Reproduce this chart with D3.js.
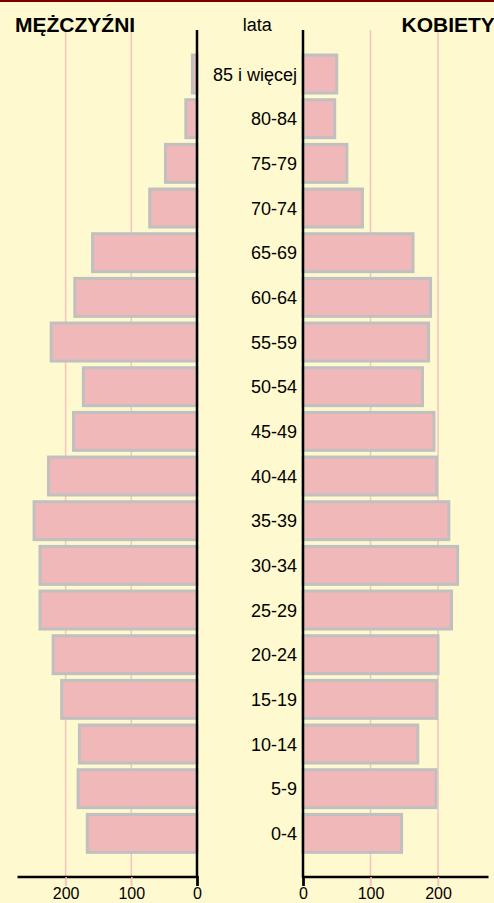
<!DOCTYPE html>
<html>
<head>
<meta charset="utf-8">
<script src="https://cdn.jsdelivr.net/npm/d3@7"></script>
<style>
body { margin: 0; background: #fff9cf; }
svg { display: block; }
text { font-family: "Liberation Sans", Arial, sans-serif; fill: #000; }
</style>
</head>
<body>
<svg width="494" height="903"></svg>
<script>
var svg = d3.select('svg');
var width = +svg.attr('width');
var height = +svg.attr('height');

// age groups, top to bottom
var ageGroups = ['85 i więcej', '80-84', '75-79', '70-74', '65-69', '60-64', '55-59', '50-54', '45-49',
	'40-44', '35-39', '30-34', '25-29', '20-24', '15-19', '10-14', '5-9', '0-4'];
var men = [7, 17, 48, 72, 159, 186, 222, 173, 188, 226, 248, 239, 239, 219, 206, 179, 181, 167];
var women = [50, 47, 65, 88, 163, 189, 186, 177, 194, 198, 216, 229, 220, 200, 198, 170, 197, 146];
var tickValues = [0, 100, 200];

svg.append('rect').attr('width', width).attr('height', height).attr('fill', '#fff9cf');
svg.append('rect').attr('width', width).attr('height', 2).attr('fill', '#7a0000');

var xLeft = d3.scaleLinear().domain([0, 274]).range([197, 17]);
var xRight = d3.scaleLinear().domain([0, 274]).range([303, 488]);

var yScale = d3.scaleBand()
	.domain(ageGroups)
	.range([51.7, 855.7])
	.paddingInner(0.15)
	.paddingOuter(0.075);

var axisTop = 30, axisBottom = 877;

// gridlines
tickValues.slice(1).forEach(function(t) {
	svg.append('line').attr('class', 'grid')
		.attr('x1', xLeft(t)).attr('x2', xLeft(t))
		.attr('y1', axisTop).attr('y2', axisBottom + 9);
	svg.append('line').attr('class', 'grid')
		.attr('x1', xRight(t)).attr('x2', xRight(t))
		.attr('y1', axisTop).attr('y2', axisBottom + 9);
});
svg.selectAll('.grid').attr('stroke', '#f3c4c0').attr('stroke-width', 1.5);

// bars
svg.selectAll('.barL').data(ageGroups).enter().append('rect')
	.attr('class', 'barL')
	.attr('x', function(d, i) { return xLeft(men[i]); })
	.attr('y', function(d) { return yScale(d); })
	.attr('width', function(d, i) { return xLeft(0) - xLeft(men[i]); })
	.attr('height', yScale.bandwidth());

svg.selectAll('.barR').data(ageGroups).enter().append('rect')
	.attr('class', 'barR')
	.attr('x', xRight(0))
	.attr('y', function(d) { return yScale(d); })
	.attr('width', function(d, i) { return xRight(women[i]) - xRight(0); })
	.attr('height', yScale.bandwidth());

svg.selectAll('.barL, .barR')
	.attr('fill', '#f0b8b8')
	.attr('stroke', '#c0c0c0')
	.attr('stroke-width', 3);

// axes
svg.append('g')
	.attr('transform', 'translate(0,' + axisBottom + ')')
	.call(d3.axisBottom(xLeft).tickValues(tickValues).tickSize(9).tickPadding(2));
svg.append('g')
	.attr('transform', 'translate(0,' + axisBottom + ')')
	.call(d3.axisBottom(xRight).tickValues(tickValues).tickSize(9).tickPadding(2));

svg.selectAll('.domain').attr('stroke', '#000').attr('stroke-width', 2.5)
	.attr('d', function() { return d3.select(this).attr('d').replace(/V\d+(\.\d+)?/g, 'V0'); });
svg.selectAll('.tick line').attr('stroke', function(d) { return d === 0 ? '#000' : '#f3c4c0'; })
	.attr('stroke-width', function(d) { return d === 0 ? 2 : 1.5; });
svg.selectAll('.tick text').style('font-size', '16px').style('font-family', '"Liberation Sans", Arial, sans-serif');

// vertical zero lines
[xLeft(0), xRight(0)].forEach(function(x) {
	svg.append('line')
		.attr('x1', x).attr('x2', x)
		.attr('y1', axisTop).attr('y2', axisBottom + 1)
		.attr('stroke', '#000').attr('stroke-width', 2.5);
});

// age labels
svg.selectAll('.age').data(ageGroups).enter().append('text')
	.attr('class', 'age')
	.attr('x', 297)
	.attr('y', function(d) { return yScale(d) + yScale.bandwidth() / 2 + 6.5; })
	.attr('text-anchor', 'end')
	.style('font-size', '18px')
	.text(function(d) { return d; });

svg.append('text').attr('x', 15).attr('y', 32)
	.style('font-size', '21px').style('font-weight', 'bold').text('MĘŻCZYŹNI');
svg.append('text').attr('x', 401.5).attr('y', 32)
	.style('font-size', '21px').style('font-weight', 'bold').text('KOBIETY');
svg.append('text').attr('x', 242.7).attr('y', 31)
	.style('font-size', '18px').text('lata');
</script>
</body>
</html>
